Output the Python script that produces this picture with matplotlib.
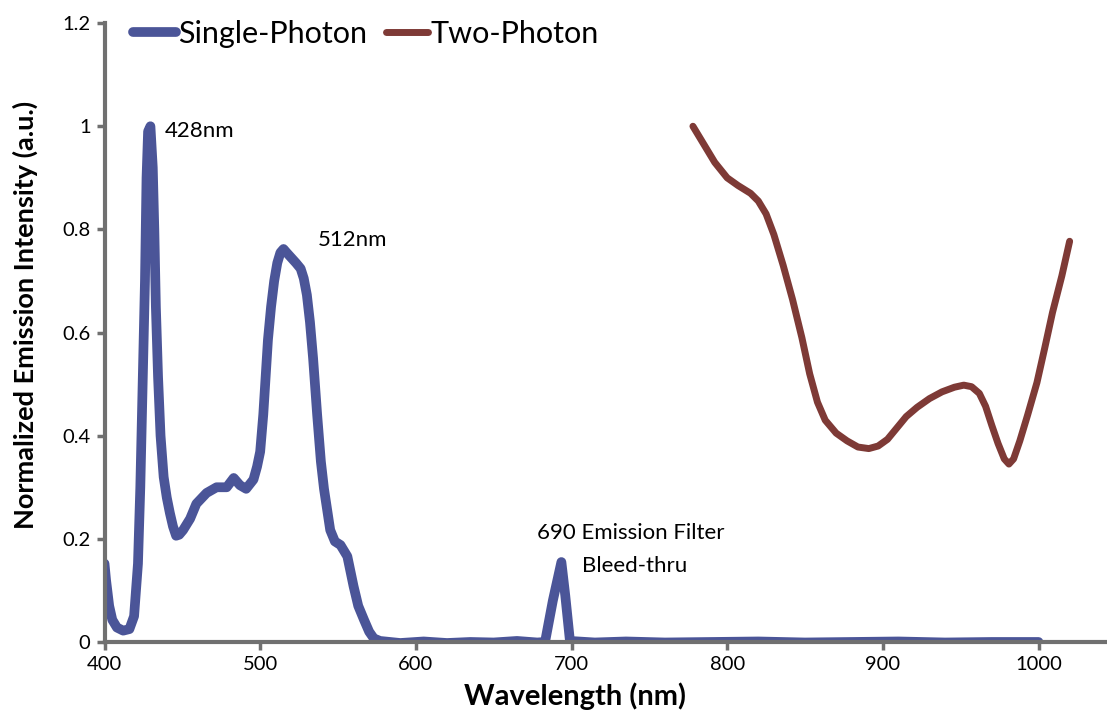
import matplotlib
matplotlib.use('Agg')
import matplotlib.pyplot as plt

plt.rcParams['font.family'] = ['Lato', 'DejaVu Sans']

# Single-photon emission (wavelength nm, normalized intensity)
single_nm = [400, 401, 403, 405, 408, 412, 416, 419, 421.5, 423, 424.5, 426,
             427, 428, 429.5, 431, 432, 433, 434.4, 436, 438, 440, 442, 444,
             446, 448, 450.5, 455, 459, 465.6, 472, 478.5, 483, 487, 491,
             495.7, 498, 500, 502, 505, 507, 509, 511, 513, 515, 517, 520,
             523, 526, 528, 530, 532, 534, 536.6, 539, 541, 545, 548, 551.6,
             556, 560, 563, 566.7, 570, 573, 577,
             590, 605, 620, 635, 650, 665, 678, 683, 688, 693.5, 696, 699,
             715, 735, 760, 790, 820, 850, 880, 910, 940, 970, 1000]
single_val = [0.152, 0.12, 0.07, 0.043, 0.028, 0.022, 0.025, 0.05, 0.152,
              0.30, 0.50, 0.70, 0.90, 0.99, 1.0, 0.92, 0.80, 0.65, 0.514,
              0.40, 0.32, 0.28, 0.25, 0.224, 0.206, 0.208, 0.217, 0.239,
              0.268, 0.289, 0.30, 0.30, 0.318, 0.304, 0.297, 0.315, 0.34,
              0.369, 0.441, 0.586, 0.65, 0.70, 0.735, 0.755, 0.762, 0.755,
              0.745, 0.735, 0.724, 0.705, 0.673, 0.62, 0.55, 0.441, 0.35,
              0.297, 0.217, 0.195, 0.188, 0.166, 0.108, 0.07, 0.043, 0.02,
              0.007, 0.002, -0.002, 0.001, -0.002, 0.0, -0.001, 0.002,
              -0.001, 0.0, 0.08, 0.155, 0.09, 0.002, -0.001, 0.001, -0.001,
              0.0, 0.001, -0.001, 0.0, 0.001, -0.001, 0.0, 0.0]

# Two-photon excitation curve
two_nm = [778, 785, 792, 800, 807, 815, 820, 825, 830, 836, 842, 848, 853,
          858, 863, 870, 877, 884, 891, 897, 903, 909, 915, 922, 930, 938,
          946, 952, 957, 962, 966, 970, 974, 978, 981, 984, 988, 993, 999,
          1004, 1009, 1015, 1020]
two_val = [1.0, 0.965, 0.93, 0.90, 0.885, 0.87, 0.855, 0.83, 0.79, 0.73,
           0.664, 0.59, 0.52, 0.465, 0.43, 0.405, 0.39, 0.378, 0.375, 0.38,
           0.393, 0.415, 0.437, 0.455, 0.472, 0.485, 0.494, 0.498, 0.495,
           0.482, 0.457, 0.42, 0.385, 0.355, 0.345, 0.355, 0.39, 0.44,
           0.503, 0.57, 0.639, 0.71, 0.777]

x_ticks = [400, 500, 600, 700, 800, 900, 1000]
y_ticks = [0, 0.2, 0.4, 0.6, 0.8, 1.0, 1.2]
y_ticklabels = ['0', '0.2', '0.4', '0.6', '0.8', '1', '1.2']

BLUE = '#4b5598'
BROWN = '#7e3a36'
GRAY = '#707070'

fig = plt.figure(figsize=(11.07, 7.13), dpi=100)
ax = fig.add_axes([0.0944, 0.0996, 1 - 0.0944, 0.868])

ax.plot(single_nm, single_val, color=BLUE, lw=7, solid_capstyle='round',
        solid_joinstyle='round', label='Single-Photon')
ax.plot(two_nm, two_val, color=BROWN, lw=5, solid_capstyle='round',
        solid_joinstyle='round', label='Two-Photon')

ax.set_xlim(400, 1044)
ax.set_ylim(0, 1.2)
ax.set_xticks(x_ticks)
ax.set_yticks(y_ticks)
ax.set_yticklabels(y_ticklabels)
ax.tick_params(axis='both', direction='out', length=6, width=2.5,
               color=GRAY, labelsize=14.5, pad=4)

for s in ['top', 'right']:
    ax.spines[s].set_visible(False)
for s in ['left', 'bottom']:
    ax.spines[s].set_color(GRAY)
    ax.spines[s].set_linewidth(3)

ax.set_xlabel('Wavelength (nm)', fontsize=21, fontweight='bold')
ax.set_ylabel('Normalized Emission Intensity (a.u.)', fontsize=19.5,
              fontweight='bold')
# label centres measured in the reference (pixels -> axes fraction)
ax.xaxis.set_label_coords((575 - 104.5) / 1002.5, (642 - 696) / 619)
ax.yaxis.set_label_coords((25 - 104.5) / 1002.5, (642 - 315) / 619)
ax.xaxis.label.set_va('center')
ax.yaxis.label.set_va('center')

ax.text(439, 0.99, '428nm', fontsize=16, va='center', ha='left')
ax.text(537, 0.78, '512nm', fontsize=16, va='center', ha='left')
ax.text(678, 0.212, '690 Emission Filter', fontsize=16, va='center', ha='left')
ax.text(707, 0.148, 'Bleed-thru', fontsize=16, va='center', ha='left')

fig.legend(loc='center left', bbox_to_anchor=(133 / 1107, 1 - 34 / 713),
           ncol=2, frameon=False, fontsize=22, handlelength=1.4,
           handletextpad=0.08, columnspacing=0.6, borderaxespad=0,
           borderpad=0)

fig.savefig('out.png', dpi=100)
